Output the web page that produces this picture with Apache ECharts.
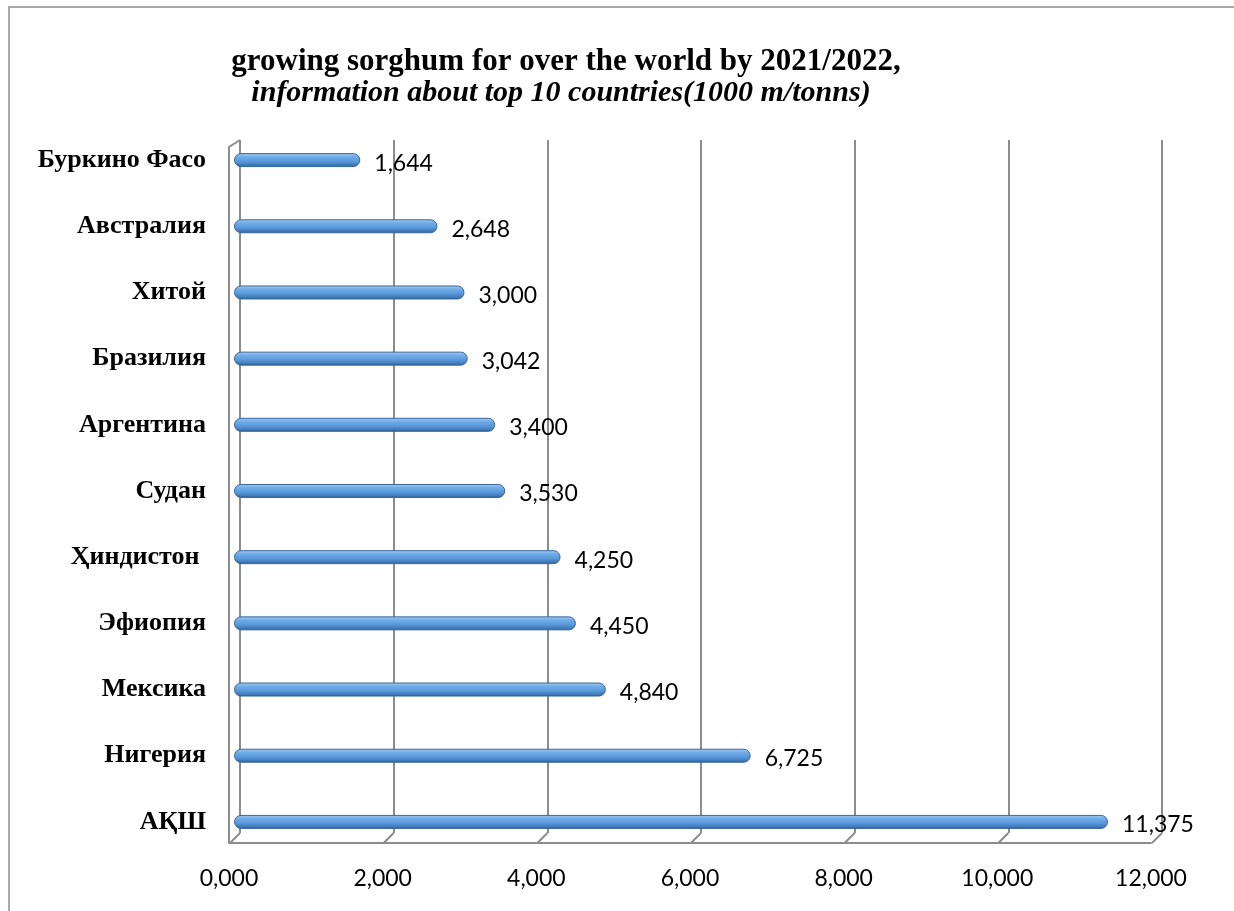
<!DOCTYPE html>
<html>
<head>
<meta charset="utf-8">
<script src="https://cdn.jsdelivr.net/npm/echarts@6/dist/echarts.min.js"></script>
<style>html,body{margin:0;padding:0;background:#fff;}#c{width:1234px;height:911px;}</style>
</head>
<body>
<div id="c"></div>
<script>
const categories = ['Буркино Фасо','Австралия','Хитой','Бразилия','Аргентина','Судан','Ҳиндистон ','Эфиопия','Мексика','Нигерия','АҚШ'];
const values = [1644, 2648, 3000, 3042, 3400, 3530, 4250, 4450, 4840, 6725, 11375];
const xTickValues = [0, 2000, 4000, 6000, 8000, 10000, 12000];
const xTickLabels = ['0,000','2,000','4,000','6,000','8,000','10,000','12,000'];
const titleText = 'growing sorghum for over the world by 2021/2022,';
const subtitleText = 'information about top 10 countries(1000 m/tonns)';

const GRID_COLOR = '#8c8c8c';
const chart = echarts.init(document.getElementById('c'), null, {renderer:'canvas'});

const barColor = new echarts.graphic.LinearGradient(0,0,0,1,[
  {offset:0, color:'#a9cdf1'},
  {offset:0.25, color:'#72aee8'},
  {offset:0.6, color:'#5897d9'},
  {offset:0.85, color:'#4079b8'},
  {offset:1, color:'#2c5687'}
]);

const option = {
  backgroundColor:'#ffffff',
  animation:false,
  graphic:[
    {type:'rect', shape:{x:9, y:7, width:1400, height:1000}, style:{fill:'none', stroke:'#a8a8a8', lineWidth:2}, z:-10},
    {type:'text', x:566, y:62, style:{text:titleText, fontFamily:'"Liberation Serif", "Times New Roman", serif', fontWeight:'bold', fontSize:31, fill:'#000', align:'center', verticalAlign:'middle'}},
    {type:'text', x:561, y:93, style:{text:subtitleText, fontFamily:'"Liberation Serif", "Times New Roman", serif', fontWeight:'bold', fontStyle:'italic', fontSize:30, fill:'#000', align:'center', verticalAlign:'middle'}}
  ],
  grid:[
    {left:240, top:140, width:922, height:693},   // back wall
    {left:234, top:127, width:922, height:728},   // bars
    {left:229, top:140, width:922, height:703}    // front floor
  ],
  xAxis:[
    {gridIndex:0, type:'value', min:0, max:12000, interval:2000,
     axisLine:{show:false}, axisTick:{show:false}, axisLabel:{show:false},
     splitLine:{show:true, lineStyle:{color:GRID_COLOR, width:2}}},
    {gridIndex:1, type:'value', min:0, max:12000, interval:2000, show:false, splitLine:{show:false}},
    {gridIndex:2, type:'value', min:0, max:12000, interval:2000,
     axisLine:{show:true, lineStyle:{color:GRID_COLOR, width:2}}, axisTick:{show:false},
     splitLine:{show:false},
     axisLabel:{show:true, margin:24, fontFamily:'Lato, Carlito, Calibri, sans-serif', fontSize:23, color:'#000',
       formatter:function(v){ const i = xTickValues.indexOf(v); return i>=0 ? xTickLabels[i] : ''; }}}
  ],
  yAxis:[
    {gridIndex:0, type:'value', min:0, max:1, show:false},
    {gridIndex:1, type:'category', data:categories, inverse:true,
     axisLine:{show:false}, axisTick:{show:false}, splitLine:{show:false},
     axisLabel:{margin:28, fontFamily:'"Liberation Serif", "Times New Roman", serif', fontWeight:'bold', fontSize:26, color:'#000'}},
    {gridIndex:2, type:'value', min:0, max:1, show:false}
  ],
  series:[
    {type:'custom', xAxisIndex:0, yAxisIndex:0, data:xTickValues, z:1, silent:true,
     renderItem:function(params, api){
       const v = api.value(0);
       const pb = api.coord([v, 0]);
       const children = [{type:'line', shape:{x1:pb[0], y1:pb[1], x2:pb[0]-10, y2:pb[1]+10}, style:{stroke:GRID_COLOR, lineWidth:2}}];
       if (params.dataIndex === 0) {
         const pt = api.coord([v, 1]);
         children.push({type:'polyline', shape:{points:[[pt[0], pt[1]], [pt[0]-11, pt[1]+7], [pt[0]-11, pb[1]+10]]}, style:{stroke:GRID_COLOR, lineWidth:2, fill:'none'}});
       }
       return {type:'group', children:children};
     }},
    {type:'bar', xAxisIndex:1, yAxisIndex:1, data:values, barWidth:14, z:3,
     itemStyle:{color:barColor, borderRadius:7, borderColor:'#3a679c', borderWidth:1},
     label:{show:true, position:'right', distance:14, offset:[0,3],
       fontFamily:'Lato, Carlito, Calibri, sans-serif', fontSize:23, color:'#000',
       formatter:function(p){ return p.value.toLocaleString('en-US'); }}}
  ]
};
chart.setOption(option);
</script>
</body>
</html>
